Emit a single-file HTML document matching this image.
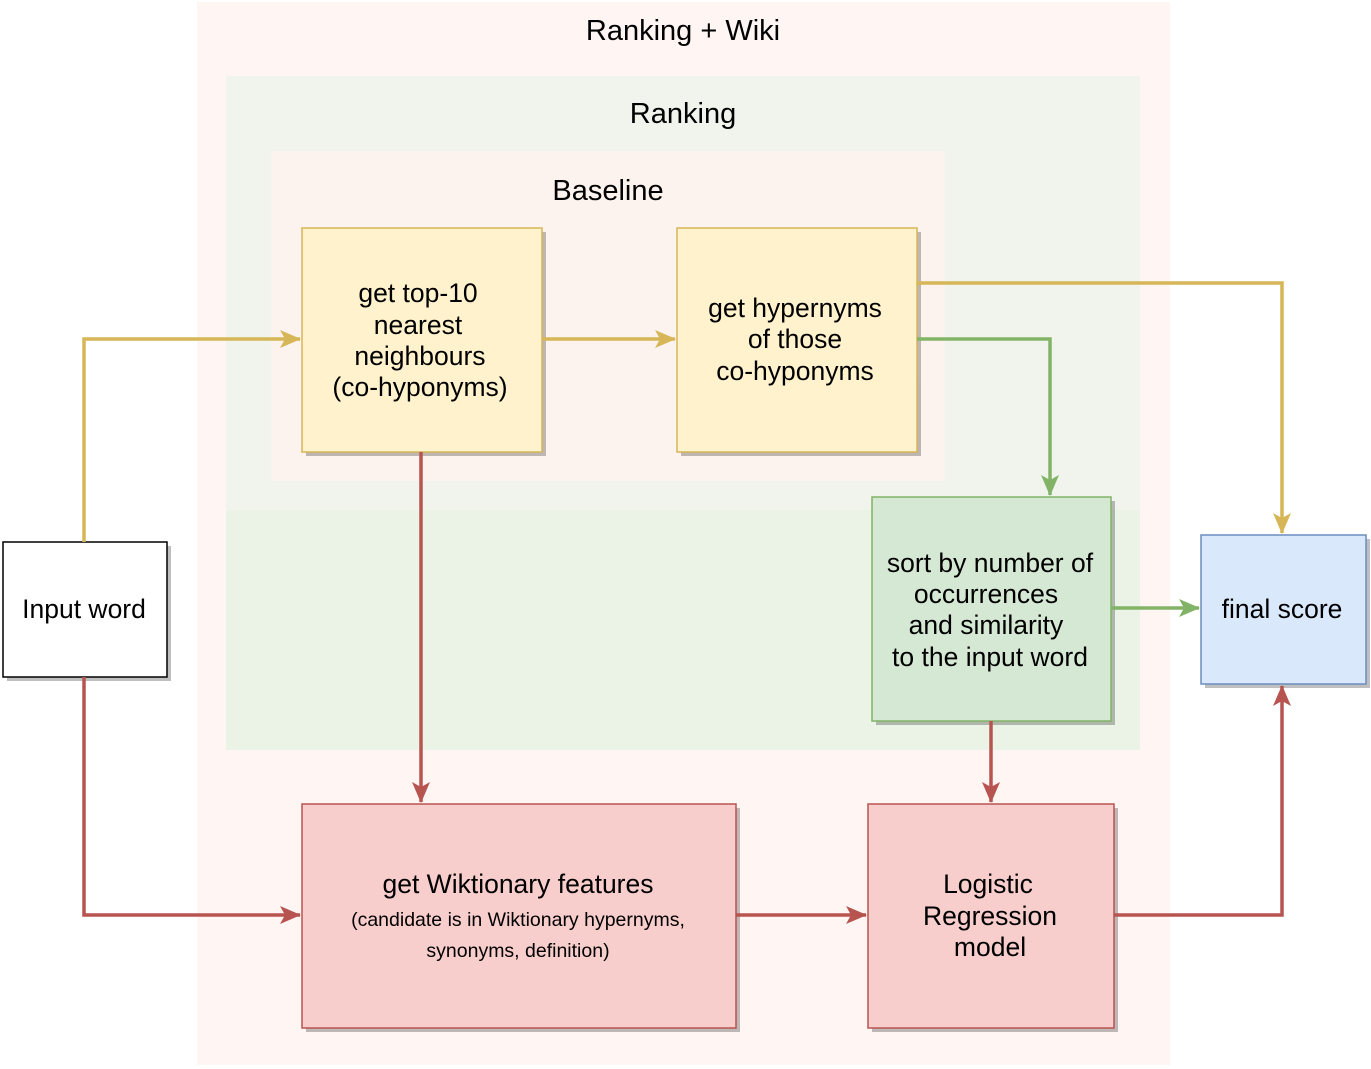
<!DOCTYPE html>
<html><head><meta charset="utf-8"><style>
html,body{margin:0;padding:0;background:#fff;}
svg{display:block;font-family:"Liberation Sans",Helvetica,Arial,sans-serif;}
</style></head><body>
<svg width="1371" height="1069" viewBox="0 0 1371 1069" xmlns="http://www.w3.org/2000/svg">
<defs>
<marker id="ay" markerWidth="22" markerHeight="22" refX="20" refY="10" orient="auto" markerUnits="userSpaceOnUse" viewBox="0 0 22 20"><path d="M0,1 L21,10 L0,19 L5,10 Z" fill="#d6b656"/></marker>
<marker id="ag" markerWidth="22" markerHeight="22" refX="20" refY="10" orient="auto" markerUnits="userSpaceOnUse" viewBox="0 0 22 20"><path d="M0,1 L21,10 L0,19 L5,10 Z" fill="#82b366"/></marker>
<marker id="ar" markerWidth="22" markerHeight="22" refX="20" refY="10" orient="auto" markerUnits="userSpaceOnUse" viewBox="0 0 22 20"><path d="M0,1 L21,10 L0,19 L5,10 Z" fill="#b85450"/></marker>
</defs>
<rect x="197" y="2" width="973" height="1063" fill="#fff5f3"/>
<rect x="226" y="76" width="914" height="674" fill="#f0f4ec"/>
<rect x="226" y="510" width="914" height="240" fill="#eaf3e6"/>
<rect x="271" y="151" width="674" height="330" fill="#fdf3ee"/>
<text x="683" y="40" font-size="29" text-anchor="middle" fill="#000">Ranking + Wiki</text>
<text x="683" y="123" font-size="29" text-anchor="middle" fill="#000">Ranking</text>
<text x="608" y="200" font-size="29" text-anchor="middle" fill="#000">Baseline</text>
<g fill="#000" opacity="0.25">
<rect x="306" y="232" width="240" height="224"/><rect x="681" y="232" width="240" height="224"/>
<rect x="876" y="501" width="239" height="224"/><rect x="1205" y="539" width="165" height="149"/>
<rect x="7" y="546" width="164" height="135"/><rect x="306" y="808" width="434" height="224"/>
<rect x="872" y="808" width="246" height="224"/>
</g>
<rect x="302" y="228" width="240" height="224" fill="#fff2cc" stroke="#d6b656" stroke-width="1.5"/>
<rect x="677" y="228" width="240" height="224" fill="#fff2cc" stroke="#d6b656" stroke-width="1.5"/>
<rect x="872" y="497" width="239" height="224" fill="#d5e8d4" stroke="#82b366" stroke-width="1.5"/>
<rect x="1201" y="535" width="165" height="149" fill="#dae8fc" stroke="#6c8ebf" stroke-width="1.5"/>
<rect x="3" y="542" width="164" height="135" fill="#fff" stroke="#000" stroke-width="1.5"/>
<rect x="302" y="804" width="434" height="224" fill="#f8cecc" stroke="#b85450" stroke-width="1.5"/>
<rect x="868" y="804" width="246" height="224" fill="#f8cecc" stroke="#b85450" stroke-width="1.5"/>
<g font-size="26.5" text-anchor="middle" fill="#000">
<text x="418" y="302">get top-10</text><text x="418" y="334">nearest</text><text x="420" y="365">neighbours</text><text x="420" y="396">(co-hyponyms)</text>
<text x="795" y="317">get hypernyms</text><text x="795" y="348">of those</text><text x="795" y="380">co-hyponyms</text>
<text x="990" y="572">sort by number of</text><text x="986" y="603">occurrences</text><text x="986" y="634">and similarity</text><text x="990" y="666">to the input word</text>
<text x="1282" y="618">final score</text>
<text x="84" y="618">Input word</text>
<text x="518" y="893">get Wiktionary features</text>
<text x="988" y="893">Logistic</text><text x="990" y="925">Regression</text><text x="990" y="956">model</text>
</g>
<text x="518" y="926" font-size="19.5" text-anchor="middle">(candidate is in Wiktionary hypernyms,</text>
<text x="518" y="957" font-size="19.5" text-anchor="middle">synonyms, definition)</text>
<g fill="none" stroke-width="3.5">
<path d="M84,542 V339 H300" stroke="#d6b656" marker-end="url(#ay)"/>
<path d="M542,339 H675" stroke="#d6b656" marker-end="url(#ay)"/>
<path d="M917,283 H1282 V533" stroke="#d6b656" marker-end="url(#ay)"/>
<path d="M917,339 H1050 V495" stroke="#82b366" marker-end="url(#ag)"/>
<path d="M1111,608 H1199" stroke="#82b366" marker-end="url(#ag)"/>
<path d="M421,452 V802" stroke="#b85450" marker-end="url(#ar)"/>
<path d="M84,677 V915 H300" stroke="#b85450" marker-end="url(#ar)"/>
<path d="M736,915 H866" stroke="#b85450" marker-end="url(#ar)"/>
<path d="M991,721 V802" stroke="#b85450" marker-end="url(#ar)"/>
<path d="M1114,915 H1282 V686" stroke="#b85450" marker-end="url(#ar)"/>
</g>
</svg>
</body></html>
